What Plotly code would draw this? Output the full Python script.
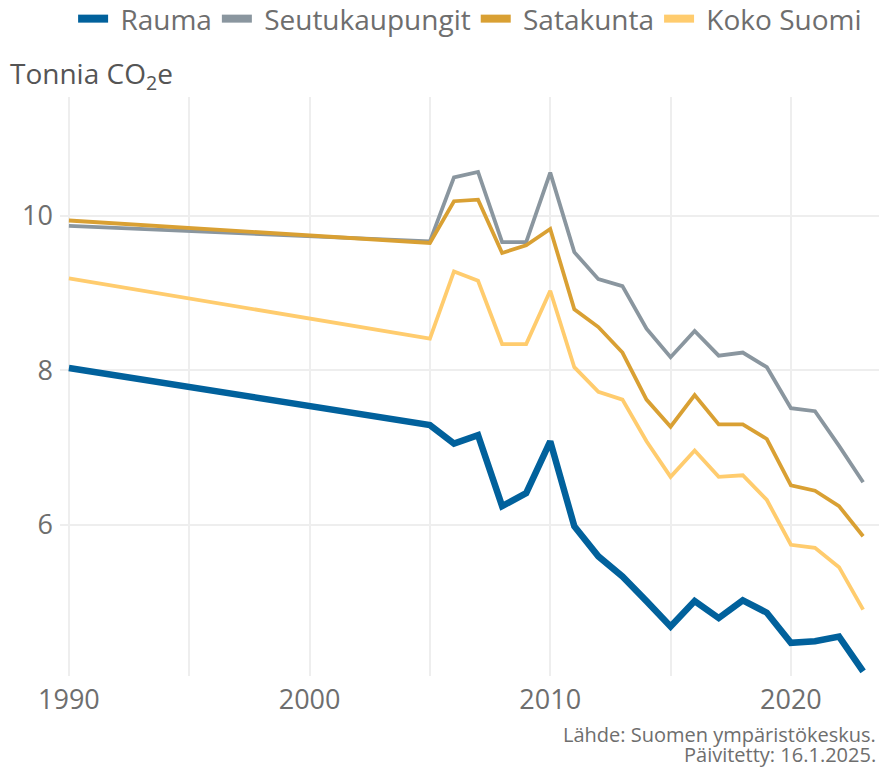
import plotly.graph_objects as go

years = [1990, 2005, 2006, 2007, 2008, 2009, 2010, 2011, 2012, 2013, 2014,
         2015, 2016, 2017, 2018, 2019, 2020, 2021, 2022, 2023]

rauma = [8.03, 7.29, 7.05, 7.16, 6.24, 6.41, 7.08, 5.98, 5.59, 5.33, 5.01,
         4.68, 5.01, 4.79, 5.02, 4.86, 4.47, 4.49, 4.55, 4.10]
seutukaupungit = [9.87, 9.67, 10.50, 10.57, 9.66, 9.66, 10.56, 9.53, 9.18, 9.09, 8.54,
                  8.17, 8.51, 8.19, 8.23, 8.04, 7.51, 7.47, 7.02, 6.55]
satakunta = [9.94, 9.65, 10.19, 10.21, 9.52, 9.62, 9.83, 8.79, 8.56, 8.23, 7.62,
             7.27, 7.68, 7.30, 7.30, 7.11, 6.51, 6.44, 6.24, 5.85]
koko_suomi = [9.19, 8.41, 9.28, 9.16, 8.34, 8.34, 9.03, 8.04, 7.72, 7.62, 7.08,
              6.62, 6.96, 6.62, 6.64, 6.32, 5.74, 5.70, 5.45, 4.90]

names = ["Rauma", "Seutukaupungit", "Satakunta", "Koko Suomi"]
colors = ["#01619c", "#8a969f", "#d9a033", "#ffcc6e"]
widths = [6.5, 3.8, 3.8, 3.8]
series = [rauma, seutukaupungit, satakunta, koko_suomi]

x_tickvals = [1990, 1995, 2000, 2005, 2010, 2015, 2020]
x_ticktext = ["1990", "", "2000", "", "2010", "", "2020"]
y_tickvals = [6, 8, 10]

FONT = "Open Sans"
TXT = "#6e6e6e"

fig = go.Figure()

# piirtojärjestys: Koko Suomi alimmaisena, Rauma päällimmäisenä
for i in [3, 1, 2, 0]:
    fig.add_trace(go.Scatter(
        x=years, y=series[i],
        mode="lines",
        line=dict(color=colors[i], width=widths[i]),
        name=names[i],
        showlegend=False
    ))

# selitteen merkit (tasapaksut palkit)
for i in range(4):
    fig.add_trace(go.Scatter(
        x=[None], y=[None],
        mode="lines",
        line=dict(color=colors[i], width=8),
        name="\u00a0" + names[i],
        showlegend=True
    ))

fig.update_layout(
    width=879, height=771,
    paper_bgcolor="white",
    plot_bgcolor="white",
    margin=dict(l=60, r=0, t=97, b=95, autoexpand=False),
    font=dict(family=FONT, color=TXT),
    legend=dict(
        orientation="h",
        x=0.016, xanchor="left",
        yref="paper", y=1.178, yanchor="top",
        font=dict(size=28, color=TXT),
        itemwidth=30,
        bgcolor="rgba(0,0,0,0)",
    ),
    xaxis=dict(
        range=[1989.63, 2023.66],
        tickvals=x_tickvals, ticktext=x_ticktext,
        showgrid=True, gridcolor="#eeeeee", gridwidth=1.5,
        zeroline=False, showline=False, ticks="",
        tickfont=dict(size=27, color=TXT),
        ticklabelstandoff=5,
        automargin=False,
    ),
    yaxis=dict(
        range=[4.04, 11.54],
        tickvals=y_tickvals,
        showgrid=True, gridcolor="#eeeeee", gridwidth=1.5,
        zeroline=False, showline=False, ticks="",
        tickfont=dict(size=27, color=TXT),
        ticklabelstandoff=6,
        automargin=False,
    ),
    annotations=[
        dict(text="Tonnia CO<sub>2</sub>e",
             xref="paper", yref="paper",
             x=-0.063, y=1.038, xanchor="left", yanchor="middle",
             showarrow=False, font=dict(size=28, color="#555555")),
        dict(text="Lähde: Suomen ympäristökeskus.",
             xref="paper", yref="paper",
             x=0.999, y=-0.101, xanchor="right", yanchor="middle",
             showarrow=False, font=dict(size=20, color=TXT)),
        dict(text="Päivitetty: 16.1.2025.",
             xref="paper", yref="paper",
             x=0.999, y=-0.135, xanchor="right", yanchor="middle",
             showarrow=False, font=dict(size=20, color=TXT)),
    ],
)

# selaimen oletusmarginaali pois, jotta kuva osuu ikkunaan
fig.write_html("out.html", config={"displayModeBar": False},
               post_script="document.body.style.margin='0';")
